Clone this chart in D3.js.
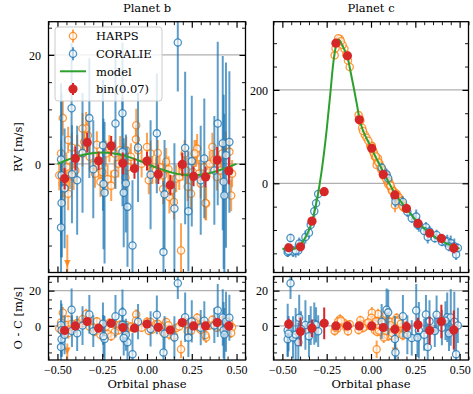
<!DOCTYPE html>
<html><head><meta charset="utf-8">
<script src="https://cdn.jsdelivr.net/npm/d3@7"></script>
<style>body{margin:0;background:#fff}svg{display:block}</style>
</head><body><svg id="c" width="473" height="394"></svg>
<script>
// ---------- DATA ----------
const panelTitles = ["Planet b", "Planet c"];
const xTicks = [-0.5, -0.25, 0, 0.25, 0.5];
const yTicksB = [0, 20];
const yTicksC = [0, 200];
const yTicksOC = [0, 20];
const legendLabels = ["HARPS", "CORALIE", "model", "bin(0.07)"];

// model curves [phase, rv]
const modelB = [[-0.5,0],[-0.45,0.65],[-0.4,1.23],[-0.35,1.7],[-0.3,2.0],[-0.25,2.1],[-0.2,2.0],[-0.15,1.7],[-0.1,1.23],[-0.05,0.65],[0,0],[0.05,-0.65],[0.1,-1.23],[0.15,-1.7],[0.2,-2.0],[0.25,-2.1],[0.3,-2.0],[0.35,-1.7],[0.4,-1.23],[0.45,-0.65],[0.5,0]];
const modelC = [[-0.5,-140],[-0.45,-141],[-0.42,-138],[-0.4,-132],[-0.37,-116],[-0.35,-100],[-0.33,-78],[-0.31,-45],[-0.29,-3],[-0.27,50],[-0.25,115],[-0.23,190],[-0.215,250],[-0.2,290],[-0.19,304],[-0.183,308],[-0.175,305],[-0.16,294],[-0.145,282],[-0.133,272],[-0.12,248],[-0.1,210],[-0.08,170],[-0.066,140],[-0.05,118],[-0.03,100],[-0.01,85],[0,77],[0.02,61],[0.04,46],[0.06,31],[0.08,16],[0.1,2],[0.12,-12],[0.14,-25],[0.16,-35],[0.18,-45],[0.2,-54],[0.25,-78],[0.3,-97],[0.35,-112],[0.4,-124],[0.45,-133],[0.5,-140]];

// observations [phase_b, rv_b, phase_c, rv_c, o-c, err]
const harps = [
[-0.48,1.9,0.012,69,2.0,2.5],[-0.49,-2.1,-0.19,302,-1.5,2.8],[-0.47,-3.6,0.055,32,-3.0,2.6],[-0.44,4.4,0.083,17.5,3.5,2.4],
[-0.45,-0.6,-0.065,140,0.5,2.7],[-0.43,-2.1,0.127,-18,-1.8,2.5],[-0.44,-5.5,0.17,-44,-4.2,3.0],[-0.40,-1.2,0.03,54.5,0.8,2.5],
[-0.36,1.9,-0.15,288,1.5,2.4],[-0.35,4.0,0.1,5,2.8,2.6],[-0.33,5.2,0.145,-23,4.5,2.8],[-0.34,6.5,0.04,53,6.8,3.0],
[-0.32,1.3,-0.035,104,-0.5,2.5],[-0.41,-2.4,0.115,-10.5,-2.0,2.4],[-0.46,-4.5,0.19,-53.5,-3.8,2.9],[-0.39,2.8,0.065,28.6,1.6,2.5],
[-0.47,8.4,0.005,80.5,7.5,3.2],[-0.42,3.0,0.155,-31.5,1.2,2.6],[-0.36,6.5,-0.175,309,3.8,2.8],[-0.30,-0.2,0.075,19,-1.0,2.4],
[-0.27,-0.5,0.022,57,-2.5,2.5],[-0.29,-1.8,0.135,-25,-3.2,2.6],[-0.25,-1.5,-0.205,274,-2.8,2.7],[-0.26,-3.3,0.092,2.6,-5.0,2.8],
[-0.23,1.9,0.18,-45.5,-0.5,2.4],[-0.21,2.8,0.047,43,1.8,2.5],[-0.18,1.9,-0.05,119,0.9,2.4],[-0.16,0.0,0.112,-8.8,-2.4,2.5],
[-0.15,2.5,0.16,-34.4,0.6,2.6],[-0.13,1.3,-0.14,276,-0.8,2.5],[-0.116,2.5,0.07,24,0.5,2.5],[-0.107,-0.6,0.198,-54.5,-1.5,2.7],
[-0.09,1.3,0.015,65,-0.4,2.5],[-0.06,7.1,0.087,17.5,6.5,3.0],[-0.05,2.5,-0.025,97.4,1.4,2.4],[-0.03,0.0,0.123,-15,-1.0,2.5],
[0.0,3.1,0.062,32,2.3,2.6],[0.02,1.9,-0.16,296,2.2,2.4],[0.03,-1.2,0.175,-44.5,-2.0,2.5],[-0.18,-1.8,0.035,46.6,-3.4,2.5],
[-0.22,-2.8,0.15,-34.6,-4.6,2.7],[-0.20,-4.0,0.098,-2.4,-5.8,2.8],[0.05,-1.2,-0.12,249,1.0,2.4],[0.07,-0.6,0.025,57.3,0.2,2.4],
[0.09,-2.1,0.14,-25.6,-0.6,2.6],[0.09,-4.6,0.058,29,-3.6,2.8],[0.107,0.4,0.105,0.7,2.2,2.5],[0.125,-6.1,0.185,-52,-4.8,3.0],
[0.14,-4.8,0.045,39.6,-2.6,2.7],[0.15,-7.0,0.118,-16,-5.5,3.2],[0.163,-2.7,-0.045,112,-1.2,2.5],[0.18,-2.4,0.165,-37.8,-0.3,2.4],
[0.20,-0.6,0.008,72.3,1.7,2.5],[0.19,-15.9,0.032,39,-13.2,5.0],[0.218,-1.2,0.078,18.5,0.9,2.4],[0.227,-4.2,-0.13,263,-3.0,2.6],
[0.246,-5.5,0.13,-21.3,-2.8,2.9],[0.255,-1.5,0.052,37.4,0.4,2.4],[0.274,1.9,-0.185,310.6,2.6,2.5],[0.29,-1.8,0.108,-4.5,-0.9,2.5],
[0.30,-3.6,0.192,-52.6,-2.2,2.7],[0.32,-0.6,0.018,63.7,1.1,2.4],[0.33,-7.3,0.072,15.5,-6.5,3.1],[0.35,0.0,-0.005,81,0.3,2.4],
[0.365,3.1,0.158,-30.5,3.5,2.6],[0.375,0.7,0.042,45.2,0.7,2.4],[0.39,-2.4,-0.2,289,-1.0,2.5],[0.41,-1.2,0.095,5.3,-0.2,2.4],
[0.42,1.9,0.138,-20.8,2.9,2.5],[0.44,3.4,-0.06,134,3.2,2.6],[0.46,2.2,0.068,26.5,1.5,2.5],[0.475,-1.8,0.188,-49.4,-0.8,2.5],
[0.28,2.8,0.002,80,4.6,2.7],[0.21,1.9,0.152,-28.5,2.5,2.5],[0.265,1.9,-0.015,91,2.0,2.5],[0.47,-5.8,0.12,-16,-4.0,2.9],
[0.326,-7.2,0.178,-49.2,-5.2,3.1],[-0.445,-28,0.135,-47,-25,15],[-0.062,4.5,-0.17,304,3.0,2.6],[-0.28,3.5,0.028,57.6,2.6,2.5],
[-0.12,-2.5,-0.07,146,-2.3,2.5],[0.01,-3.0,0.085,9.8,-2.7,2.6],[0.06,2.0,0.168,-37.7,1.3,2.4],[0.12,-1.0,0.11,-4.6,0.4,2.4]
];
const coralie = [
[-0.421,10.2,0.088,19.4,9.2,12],[-0.322,8.4,0.31,-94,6.5,11],[-0.137,9.3,0.097,11,7.7,13],[-0.176,7.4,0.18,-40,5.5,12],
[-0.48,0.8,-0.37,-115,0.5,14],[-0.477,-2.1,-0.47,-143,-2.4,15],[-0.477,-7.2,-0.47,-147.5,-7.5,10],[-0.48,-11.7,0.32,-115,-12,14],
[-0.419,-1.9,0.36,-117.5,-2.9,9],[-0.246,3.4,-0.32,-60,1.3,12],[-0.237,-5.3,0.135,-29,-7.4,13],[-0.243,-3.7,-0.35,-106,-5.8,12],
[-0.137,2.2,-0.31,-42.5,0.6,10],[-0.118,-3.6,0.3,-102,-5.0,9],[-0.109,-7.9,-0.41,-144,-9.2,11],[-0.081,-15,0.48,-152.5,-16,12],
[-0.13,-5.3,0.23,-75,-6.8,10],[0.172,22.3,-0.454,-117,24.2,9],[0.055,5.6,0.37,-110.6,6.3,11],[0.213,2.9,0.43,-124,4.9,14],
[0.153,-8.2,-0.44,-146,-6.5,12],[0.231,-8.7,0.262,-89,-6.6,11],[0.092,-16.2,0.138,-38.7,-15,13],[0.395,7.4,0.255,-71.3,8.7,15],
[0.423,3.8,0.45,-128,4.8,16],[0.441,1.6,0.47,-135,2.4,17],[0.376,-1.2,0.49,-138.7,0.3,10],[0.428,-3.3,0.27,-88,-2.4,16],
[0.432,-5.8,-0.425,-143.7,-4.9,15],[0.098,-5.6,-0.465,-145,-4.4,10],[-0.46,-4.5,0.205,-61,-5.0,11],[0.02,-2.0,-0.395,-131,-1.7,10],
[-0.30,-1.0,-0.298,-23,-3.0,9],[0.30,-3.0,0.4,-125,-1.0,10],[-0.36,2.0,-0.34,-89,0.2,11],[0.25,0.5,0.33,-103.4,2.6,12],
[-0.05,3.0,0.06,33.4,2.4,10],[0.32,1.0,0.42,-124.6,3.0,11],[-0.39,-3.0,0.44,-135.5,-4.2,10],[0.46,4.0,-0.405,-129,4.6,13]
];
// binned data [phase, rv, o-c, err]
const binsB = [[-0.46,-2.7,-2.6,2.0],[-0.40,1.0,0.0,2.2],[-0.334,3.9,2.5,1.8],[-0.27,0.55,-1.3,1.7],[-0.20,3.3,1.5,1.8],[-0.135,0.1,-0.9,2.0],[-0.07,-0.85,-1.3,1.9],[0.0,0.5,1.1,1.7],[0.063,-1.9,-0.8,1.8],[0.13,-3.9,-2.3,1.9],[0.197,-0.1,1.9,2.2],[0.26,-2.3,0.0,1.8],[0.327,-2.4,0.0,1.9],[0.392,0.7,1.9,2.4],[0.457,-1.3,0.0,2.5]];
const binsC = [[-0.464,-138,1.1,3],[-0.398,-136,-3.2,8],[-0.333,-81,-1.3,5],[-0.264,-18,1.5,9],[-0.198,300,0.0,1.5],[-0.133,273,0.0,1.5],[-0.066,136,0.0,1.5],[0.004,75,0.0,1],[0.069,19,-0.9,1],[0.135,-25,-1.9,1.5],[0.2,-54,-0.4,3],[0.265,-86,0.6,4],[0.331,-107,-2.6,8],[0.397,-118,2.5,9.5],[0.467,-139,-2.3,11]];

// ---------- DRAWING ----------
const C_H = "#ff7f0e", C_C = "#1f77b4", C_M = "#2ca02c", C_B = "#d62728";
const SERIF = "DejaVu Serif, Liberation Serif, serif";
const TICKF = "Liberation Serif, DejaVu Serif, serif";
const svg = d3.select("#c");
const defs = svg.append("defs");

function makePanel(id, x0, x1, y0, y1, yd, yMajor, yMinorStep, xLabels, labelGap) {
  const x = d3.scaleLinear().domain([-0.55, 0.55]).range([x0, x1]);
  const y = d3.scaleLinear().domain(yd).range([y1, y0]);
  const g = svg.append("g");
  defs.append("clipPath").attr("id", "cl" + id).append("rect")
    .attr("x", x0).attr("y", y0).attr("width", x1 - x0).attr("height", y1 - y0);
  g.append("g").selectAll("line").data(yMajor).join("line")
    .attr("x1", x0).attr("x2", x1).attr("y1", d => y(d)).attr("y2", d => y(d))
    .attr("stroke", "#b0b0b0").attr("stroke-width", 1.2);
  const data = g.append("g").attr("clip-path", `url(#cl${id})`);
  const xMinor = d3.range(-11, 12).map(i => i * 0.05).filter(v => !xTicks.some(t => Math.abs(t - v) < 1e-9));
  const yMinor = d3.range(Math.ceil(yd[0] / yMinorStep), Math.floor(yd[1] / yMinorStep) + 1)
    .map(i => i * yMinorStep).filter(v => !yMajor.includes(v));
  const ax = g.append("g");
  function addAxis(axisFn, scale, vals, size, fmt, transform, width) {
    const a = axisFn(scale).tickValues(vals).tickSizeInner(-size).tickSizeOuter(0).tickPadding(size + labelGap.pad);
    a.tickFormat(fmt || (() => ""));
    const s = ax.append("g").attr("transform", transform).call(a);
    s.select(".domain").remove();
    s.selectAll(".tick line").attr("stroke", "#000").attr("stroke-width", width);
    s.selectAll("text").attr("font-family", TICKF).attr("font-size", 12).attr("fill", "#000");
    return s;
  }
  const fx = d3.format(".2f");
  const xb = addAxis(d3.axisBottom, x, xTicks, 6, xLabels ? fx : null, `translate(0,${y1})`, 1.2);
  if (xLabels) xb.selectAll("text").attr("dy", null).attr("y", 374 - y1);
  addAxis(d3.axisBottom, x, xMinor, 3.5, null, `translate(0,${y1})`, 0.9);
  addAxis(d3.axisTop, x, xTicks, 6, null, `translate(0,${y0})`, 1.2);
  addAxis(d3.axisTop, x, xMinor, 3.5, null, `translate(0,${y0})`, 0.9);
  const yl = addAxis(d3.axisLeft, y, yMajor, 6, d3.format("d"), `translate(${x0},0)`, 1.2);
  yl.selectAll("text").attr("dy", "0.35em").attr("x", -labelGap.y);
  addAxis(d3.axisLeft, y, yMinor, 3.5, null, `translate(${x0},0)`, 0.9);
  addAxis(d3.axisRight, y, yMajor, 6, null, `translate(${x1},0)`, 1.2);
  addAxis(d3.axisRight, y, yMinor, 3.5, null, `translate(${x1},0)`, 0.9);
  const frame = () => g.append("rect").attr("x", x0).attr("y", y0).attr("width", x1 - x0).attr("height", y1 - y0)
    .attr("fill", "none").attr("stroke", "#000").attr("stroke-width", 1.3);
  return {x, y, data, frame, y0, y1, x0, x1};
}

function drawObs(p, rows, xi, yi, color) {
  const grp = p.data.append("g");
  grp.selectAll("line").data(rows).join("line")
    .attr("x1", d => p.x(d[xi])).attr("x2", d => p.x(d[xi]))
    .attr("y1", d => p.y(d[yi] - d[5])).attr("y2", d => p.y(d[yi] + d[5]))
    .attr("stroke", color).attr("stroke-width", 2).attr("stroke-opacity", 0.72);
  grp.selectAll("circle").data(rows).join("circle")
    .attr("cx", d => p.x(d[xi])).attr("cy", d => p.y(d[yi])).attr("r", 3.6)
    .attr("fill", "#fff").attr("fill-opacity", 0.6)
    .attr("stroke", color).attr("stroke-width", 1.3).attr("stroke-opacity", 0.8);
  const lo = p.y.domain()[0];
  grp.selectAll("path.arrow").data(rows.filter(d => d[yi] < lo)).join("path").attr("class", "arrow")
    .attr("d", d => { const cx = p.x(d[xi]), cy = p.y1 - 9; return `M${cx-3.2},${cy-3.5}L${cx+3.2},${cy-3.5}L${cx},${cy+3.5}Z`; })
    .attr("fill", color).attr("fill-opacity", 0.85);
}
function drawModel(p, pts) {
  p.data.append("path").datum(pts)
    .attr("d", d3.line().x(d => p.x(d[0])).y(d => p.y(d[1])).curve(d3.curveMonotoneX))
    .attr("fill", "none").attr("stroke", C_M).attr("stroke-width", 2);
}
function drawBins(p, rows, yi) {
  const grp = p.data.append("g");
  grp.selectAll("line").data(rows).join("line")
    .attr("x1", d => p.x(d[0])).attr("x2", d => p.x(d[0]))
    .attr("y1", d => p.y(d[yi] - d[3])).attr("y2", d => p.y(d[yi] + d[3]))
    .attr("stroke", C_B).attr("stroke-width", 2);
  grp.selectAll("circle").data(rows).join("circle")
    .attr("cx", d => p.x(d[0])).attr("cy", d => p.y(d[yi])).attr("r", 4.6).attr("fill", C_B);
}

const TL = makePanel("tl", 48.5, 245.5, 21.7, 272.5, [-19.95, 26.1], yTicksB, 5, false, {pad: 1, y: 7.5});
const TR = makePanel("tr", 273.5, 468.5, 21.7, 272.5, [-191, 346], yTicksC, 50, false, {pad: 1, y: 5.5});
const BL = makePanel("bl", 48.5, 245.5, 276.5, 360, [-19.3, 28], yTicksOC, 5, true, {pad: 1, y: 7.5});
const BR = makePanel("br", 273.5, 468.5, 276.5, 360, [-19.3, 28], yTicksOC, 5, true, {pad: 1, y: 5.5});

drawObs(TL, harps, 0, 1, C_H); drawObs(TL, coralie, 0, 1, C_C); drawModel(TL, modelB); drawBins(TL, binsB, 1);
drawObs(TR, harps, 2, 3, C_H); drawObs(TR, coralie, 2, 3, C_C); drawModel(TR, modelC); drawBins(TR, binsC, 1);
drawObs(BL, harps, 0, 4, C_H); drawObs(BL, coralie, 0, 4, C_C); drawBins(BL, binsB, 2);
drawObs(BR, harps, 2, 4, C_H); drawObs(BR, coralie, 2, 4, C_C); drawBins(BR, binsC, 2);
[TL, TR, BL, BR].forEach(p => p.frame());

// titles and labels
const txt = (x, y, s, opts = {}) => svg.append("text").attr("x", x).attr("y", y).text(s)
  .attr("font-family", SERIF).attr("font-size", opts.size || 11.5).attr("text-anchor", opts.anchor || "middle")
  .attr("transform", opts.rot ? `rotate(-90,${x},${y})` : null);
txt((TL.x0 + TL.x1) / 2, 11.7, panelTitles[0]);
txt((TR.x0 + TR.x1) / 2, 11.7, panelTitles[1]);
txt((BL.x0 + BL.x1) / 2, 388, "Orbital phase");
txt((BR.x0 + BR.x1) / 2, 388, "Orbital phase");
txt(22, (TL.y0 + TL.y1) / 2, "RV [m/s]", {rot: true});
txt(22, (BL.y0 + BL.y1) / 2, "O - C [m/s]", {rot: true});

// legend
const lg = svg.append("g");
lg.append("rect").attr("x", 55).attr("y", 27).attr("width", 107).attr("height", 74).attr("rx", 3)
  .attr("fill", "#fff").attr("fill-opacity", 0.8).attr("stroke", "#cccccc").attr("stroke-width", 1);
const rows = [36, 53.7, 71.3, 89];
[C_H, C_C].forEach((c, i) => {
  lg.append("line").attr("x1", 73).attr("x2", 73).attr("y1", rows[i] - 6.5).attr("y2", rows[i] + 6.5)
    .attr("stroke", c).attr("stroke-width", 2).attr("stroke-opacity", 0.72);
  lg.append("circle").attr("cx", 73).attr("cy", rows[i]).attr("r", 3.6).attr("fill", "#fff").attr("fill-opacity", 0.6)
    .attr("stroke", c).attr("stroke-width", 1.3).attr("stroke-opacity", 0.8);
});
lg.append("line").attr("x1", 60).attr("x2", 86).attr("y1", rows[2]).attr("y2", rows[2]).attr("stroke", C_M).attr("stroke-width", 2);
lg.append("line").attr("x1", 73).attr("x2", 73).attr("y1", rows[3] - 6).attr("y2", rows[3] + 6).attr("stroke", C_B).attr("stroke-width", 2);
lg.append("circle").attr("cx", 73).attr("cy", rows[3]).attr("r", 4.6).attr("fill", C_B);
legendLabels.forEach((s, i) => lg.append("text").attr("x", 96).attr("y", rows[i] + 4.3).text(s)
  .attr("font-family", SERIF).attr("font-size", 11.5));
</script></body></html>
